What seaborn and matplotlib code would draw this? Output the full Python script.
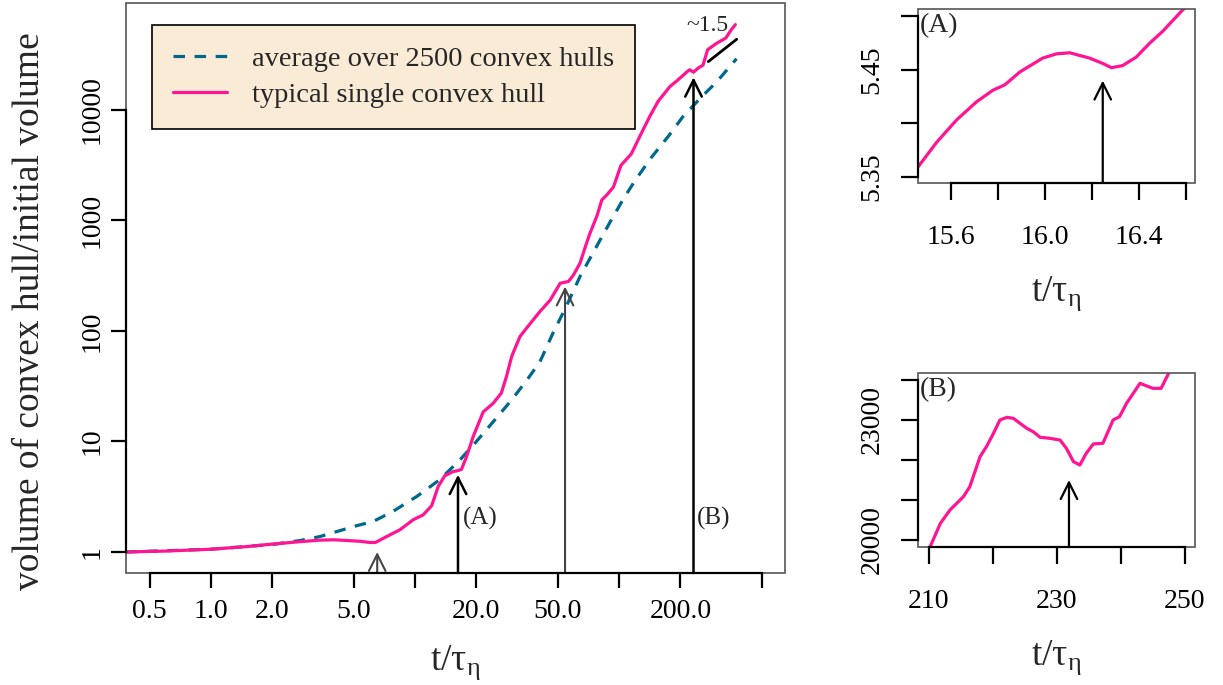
import numpy as np
import pandas as pd
import matplotlib
matplotlib.use("Agg")
import matplotlib.pyplot as plt
import seaborn as sns
from matplotlib.patches import Rectangle
from matplotlib.lines import Line2D
from matplotlib.ticker import NullLocator

# ---------------- data ----------------
# typical single convex hull (main panel)
single_t = [0.38, 0.6, 1.0, 1.5, 2.0, 2.73, 3.4, 4.0, 4.7, 5.4, 6.0, 6.4, 7.26, 8.44,
            9.81, 10.98, 12.07, 13.0, 14.0, 15.4, 16.25, 16.9, 17.9, 19.3, 21.6, 24.2,
            26.5, 28.1, 29.8, 32.7, 35.8, 41.0, 46.0, 51.5, 56.5, 59.8, 64.4, 69.3,
            72.1, 78.0, 82.4, 87.2, 93.9, 102.3, 115.0, 128.7, 141.6, 155.8, 178.0,
            191.6, 215.0, 222.0, 232.0, 240.0, 247.0, 258.0, 272.0, 301.0, 334.0,
            355.0, 372.0]
single_v = [1.00, 1.02, 1.06, 1.12, 1.18, 1.24, 1.28, 1.29, 1.27, 1.25, 1.22, 1.22, 1.38,
            1.59, 1.96, 2.17, 2.62, 3.92, 4.9, 5.35, 5.45, 5.6, 7.3, 11.1, 18.5, 22.2,
            27.4, 38.8, 58.9, 89, 110, 150, 190, 270, 280, 320, 410, 620, 766, 1100,
            1531, 1700, 2000, 3150, 4000, 6140, 8730, 12000, 16300, 18200, 22000,
            23050, 21900, 23200, 24200, 25300, 35000, 40000, 44600, 53000, 59000]

# average over 2500 convex hulls (main panel)
avg_t = [0.38, 1.0, 2.0, 2.73, 3.42, 4.28, 5.18, 6.24, 7.8, 10.2, 13.2, 16.6, 20.0,
         24.2, 29.8, 35.4, 41.0, 47.4, 55.0, 64.4, 76.0, 90.0, 104.8, 120.0, 144.0,
         175.0, 206.0, 254.0, 302.0, 377.0]
avg_v = [1.00, 1.06, 1.17, 1.27, 1.38, 1.56, 1.73, 1.89, 2.33, 3.18, 4.5, 6.8, 10.0,
         15.1, 23.8, 36, 52.7, 95, 165, 310, 541, 950, 1550, 2300, 3700, 5800, 8700,
         13100, 18000, 29000]

# inset (A): zoom around t ~ 16
insetA_t = [15.46, 15.539, 15.624, 15.709, 15.78, 15.83, 15.894, 15.991, 16.05, 16.106,
            16.191, 16.247, 16.284, 16.332, 16.39, 16.447, 16.502, 16.587, 16.62]
insetA_v = [5.359, 5.382, 5.403, 5.420, 5.431, 5.436, 5.448, 5.461, 5.465, 5.466,
            5.461, 5.456, 5.452, 5.454, 5.462, 5.475, 5.486, 5.506, 5.512]

# inset (B): zoom around t ~ 230
insetB_t = [210.2, 211.8, 213.3, 215.4, 216.4, 218.0, 219.0, 220.1, 221.1, 222.2, 223.2,
            225.3, 226.3, 227.4, 228.9, 230.5, 231.5, 232.6, 233.6, 234.6, 235.7, 237.2,
            238.8, 239.8, 240.9, 243.0, 245.0, 246.3, 247.6, 248.0]
insetB_v = [19833, 20417, 20750, 21083, 21333, 22083, 22333, 22667, 23000, 23067, 23042,
            22792, 22708, 22567, 22542, 22500, 22292, 21958, 21875, 22167, 22400, 22417,
            23000, 23083, 23417, 23917, 23792, 23792, 24208, 24300]

# arrows (x position, tip value, colour)
main_arrow_t = [6.53, 16.25, 54.4, 231.9]
main_arrow_tip = [1.0, 5.0, 252, 19700]
main_arrow_col = ["#444444", "black", "#444444", "black"]
arrowA_t, arrowA_tip = 16.247, 5.440
arrowB_t, arrowB_tip = 231.9, 21500

# slope reference line (~1.5)
slope_t = [274.0, 377.6]
slope_v = [27300, 43500]
slope_label = "~1.5"

# tick labels
main_xticks = [0.5, 1, 2, 5, 10, 20, 50, 100, 200, 500]
main_xticklabels = ["0.5", "1.0", "2.0", "5.0", "", "20.0", "50.0", "", "200.0", ""]
main_yticks = [1, 10, 100, 1000, 10000]
main_yticklabels = ["1", "10", "100", "1000", "10000"]
A_xticks = [15.6, 15.8, 16.0, 16.2, 16.4, 16.6]
A_xticklabels = ["15.6", "", "16.0", "", "16.4", ""]
A_yticks = [5.35, 5.40, 5.45, 5.50]
A_yticklabels = ["5.35", "", "5.45", ""]
B_xticks = [210, 220, 230, 240, 250]
B_xticklabels = ["210", "", "230", "", "250"]
B_yticks = [20000, 21000, 22000, 23000, 24000]
B_yticklabels = ["20000", "", "", "23000", ""]

series_labels = ["average over 2500 convex hulls", "typical single convex hull"]

PINK = "#FF1493"
TEAL = "#00688B"
BOXGREY = "#555555"

# ---------------- style ----------------
sns.set_theme(style="white")
plt.rcParams["font.family"] = ["Liberation Serif", "DejaVu Serif"]
plt.rcParams["mathtext.fontset"] = "custom"
plt.rcParams["mathtext.rm"] = "Liberation Serif"
plt.rcParams["mathtext.it"] = "Liberation Serif:italic"

TICKFS = 20
LABFS = 27
DASH = (3.6, 3.0)

fig = plt.figure(figsize=(12.23, 6.85), dpi=100)

ax = fig.add_axes([125.7 / 1223, 1 - 573 / 685, (785.5 - 125.7) / 1223, (573 - 3.3) / 685])
axA = fig.add_axes([918 / 1223, 1 - 183 / 685, (1195 - 918) / 1223, (183 - 9) / 685])
axB = fig.add_axes([918 / 1223, 1 - 547 / 685, (1195 - 918) / 1223, (547 - 373) / 685])


def r_style(a, xt, xtl, yt, ytl, tick_len, xpad, ypad):
    for s in a.spines.values():
        s.set_visible(False)
    a.add_patch(Rectangle((0, 0), 1, 1, transform=a.transAxes, fill=False,
                          ec=BOXGREY, lw=1.2, clip_on=False, zorder=5))
    for side in ("bottom", "left"):
        a.spines[side].set_visible(True)
        a.spines[side].set_color("black")
        a.spines[side].set_linewidth(1.6)
        a.spines[side].set_zorder(6)
    a.xaxis.set_minor_locator(NullLocator())
    a.yaxis.set_minor_locator(NullLocator())
    a.set_xticks(xt)
    a.set_xticklabels(xtl)
    a.set_yticks(yt)
    a.set_yticklabels(ytl, rotation=90, va="center")
    a.spines["bottom"].set_bounds(xt[0], xt[-1])
    a.spines["left"].set_bounds(yt[0], yt[-1])
    a.tick_params(axis="both", which="major", direction="out", length=tick_len,
                  width=1.6, color="black", labelsize=TICKFS, labelcolor="black",
                  bottom=True, left=True)
    a.tick_params(axis="x", pad=xpad)
    a.tick_params(axis="y", pad=ypad)
    a.grid(False)
    a.set_facecolor("white")


# ---------------- main panel ----------------
ax.set_xscale("log")
ax.set_yscale("log")
sns.lineplot(x=avg_t, y=avg_v, ax=ax, color=TEAL, lw=2.3, linestyle="--",
             sort=False, estimator=None, legend=False)
ax.lines[-1].set_dashes(DASH)
sns.lineplot(x=single_t, y=single_v, ax=ax, color=PINK, lw=2.3,
             sort=False, estimator=None, legend=False)
sns.lineplot(x=slope_t, y=slope_v, ax=ax, color="black", lw=2.0,
             sort=False, estimator=None, legend=False)
ax.text(np.sqrt(slope_t[0] * slope_t[1]) * 0.84, 57400, slope_label, ha="center",
        va="center", fontsize=17)

for t, tip, c in zip(main_arrow_t, main_arrow_tip, main_arrow_col):
    ax.annotate("", xy=(t, tip), xycoords="data", xytext=(t, 0),
                textcoords=("data", "axes fraction"),
                arrowprops=dict(arrowstyle="->,head_length=0.7,head_width=0.35",
                                color=c, lw=1.8 if c == "black" else 1.5,
                                shrinkA=0, shrinkB=0, mutation_scale=17))
ax.text(17.2, 2.0, "(A)", ha="left", va="center", fontsize=18)
ax.text(241, 2.0, "(B)", ha="left", va="center", fontsize=18)

ax.set_xlim(0.382, 655)
ax.set_ylim(0.646, 92000)
r_style(ax, main_xticks, main_xticklabels, main_yticks, main_yticklabels, 10.5, 8, 5)
ax.set_xlabel(r"$\mathrm{t/\tau_{\eta}}$", fontsize=LABFS, labelpad=14)
ax.set_ylabel("volume of convex hull/initial volume", fontsize=LABFS)
ax.yaxis.set_label_coords((47 - 125.7) / 659.8, 0.46)

handles = [Line2D([], [], color=TEAL, lw=2.3, dashes=DASH),
           Line2D([], [], color=PINK, lw=2.3)]
leg = ax.legend(handles, series_labels, loc="upper left",
                bbox_to_anchor=(0.0399, 0.962), fontsize=20.5, frameon=True,
                fancybox=False, framealpha=1, facecolor="#FAEBD7",
                edgecolor="black", handlelength=1.9, handletextpad=0.85,
                borderpad=0.75, labelspacing=0.35, borderaxespad=0)
leg.get_frame().set_linewidth(1.2)
leg.set_zorder(10)

# ---------------- inset A ----------------
sns.lineplot(x=insetA_t, y=insetA_v, ax=axA, color=PINK, lw=2.3,
             sort=False, estimator=None, legend=False)
axA.annotate("", xy=(arrowA_t, arrowA_tip), xycoords="data", xytext=(arrowA_t, 0),
             textcoords=("data", "axes fraction"),
             arrowprops=dict(arrowstyle="->,head_length=0.7,head_width=0.35",
                             color="black", lw=1.6, shrinkA=0, shrinkB=0,
                             mutation_scale=17))
axA.set_xlim(15.46, 16.64)
axA.set_ylim(5.344, 5.507)
r_style(axA, A_xticks, A_xticklabels, A_yticks, A_yticklabels, 12, 18, 12)
axA.text(0.005, 0.975, "(A)", transform=axA.transAxes, ha="left", va="top", fontsize=20)
axA.set_xlabel(r"$\mathrm{t/\tau_{\eta}}$", fontsize=LABFS, labelpad=18)
axA.set_ylabel("")

# ---------------- inset B ----------------
sns.lineplot(x=insetB_t, y=insetB_v, ax=axB, color=PINK, lw=2.3,
             sort=False, estimator=None, legend=False)
axB.annotate("", xy=(arrowB_t, arrowB_tip), xycoords="data", xytext=(arrowB_t, 0),
             textcoords=("data", "axes fraction"),
             arrowprops=dict(arrowstyle="->,head_length=0.7,head_width=0.35",
                             color="black", lw=1.6, shrinkA=0, shrinkB=0,
                             mutation_scale=17))
axB.set_xlim(208.3, 251.6)
axB.set_ylim(19825, 24175)
r_style(axB, B_xticks, B_xticklabels, B_yticks, B_yticklabels, 12, 18, 12)
axB.text(0.005, 0.975, "(B)", transform=axB.transAxes, ha="left", va="top", fontsize=20)
axB.set_xlabel(r"$\mathrm{t/\tau_{\eta}}$", fontsize=LABFS, labelpad=18)
axB.set_ylabel("")

fig.savefig("out.png", dpi=100, facecolor="white")
